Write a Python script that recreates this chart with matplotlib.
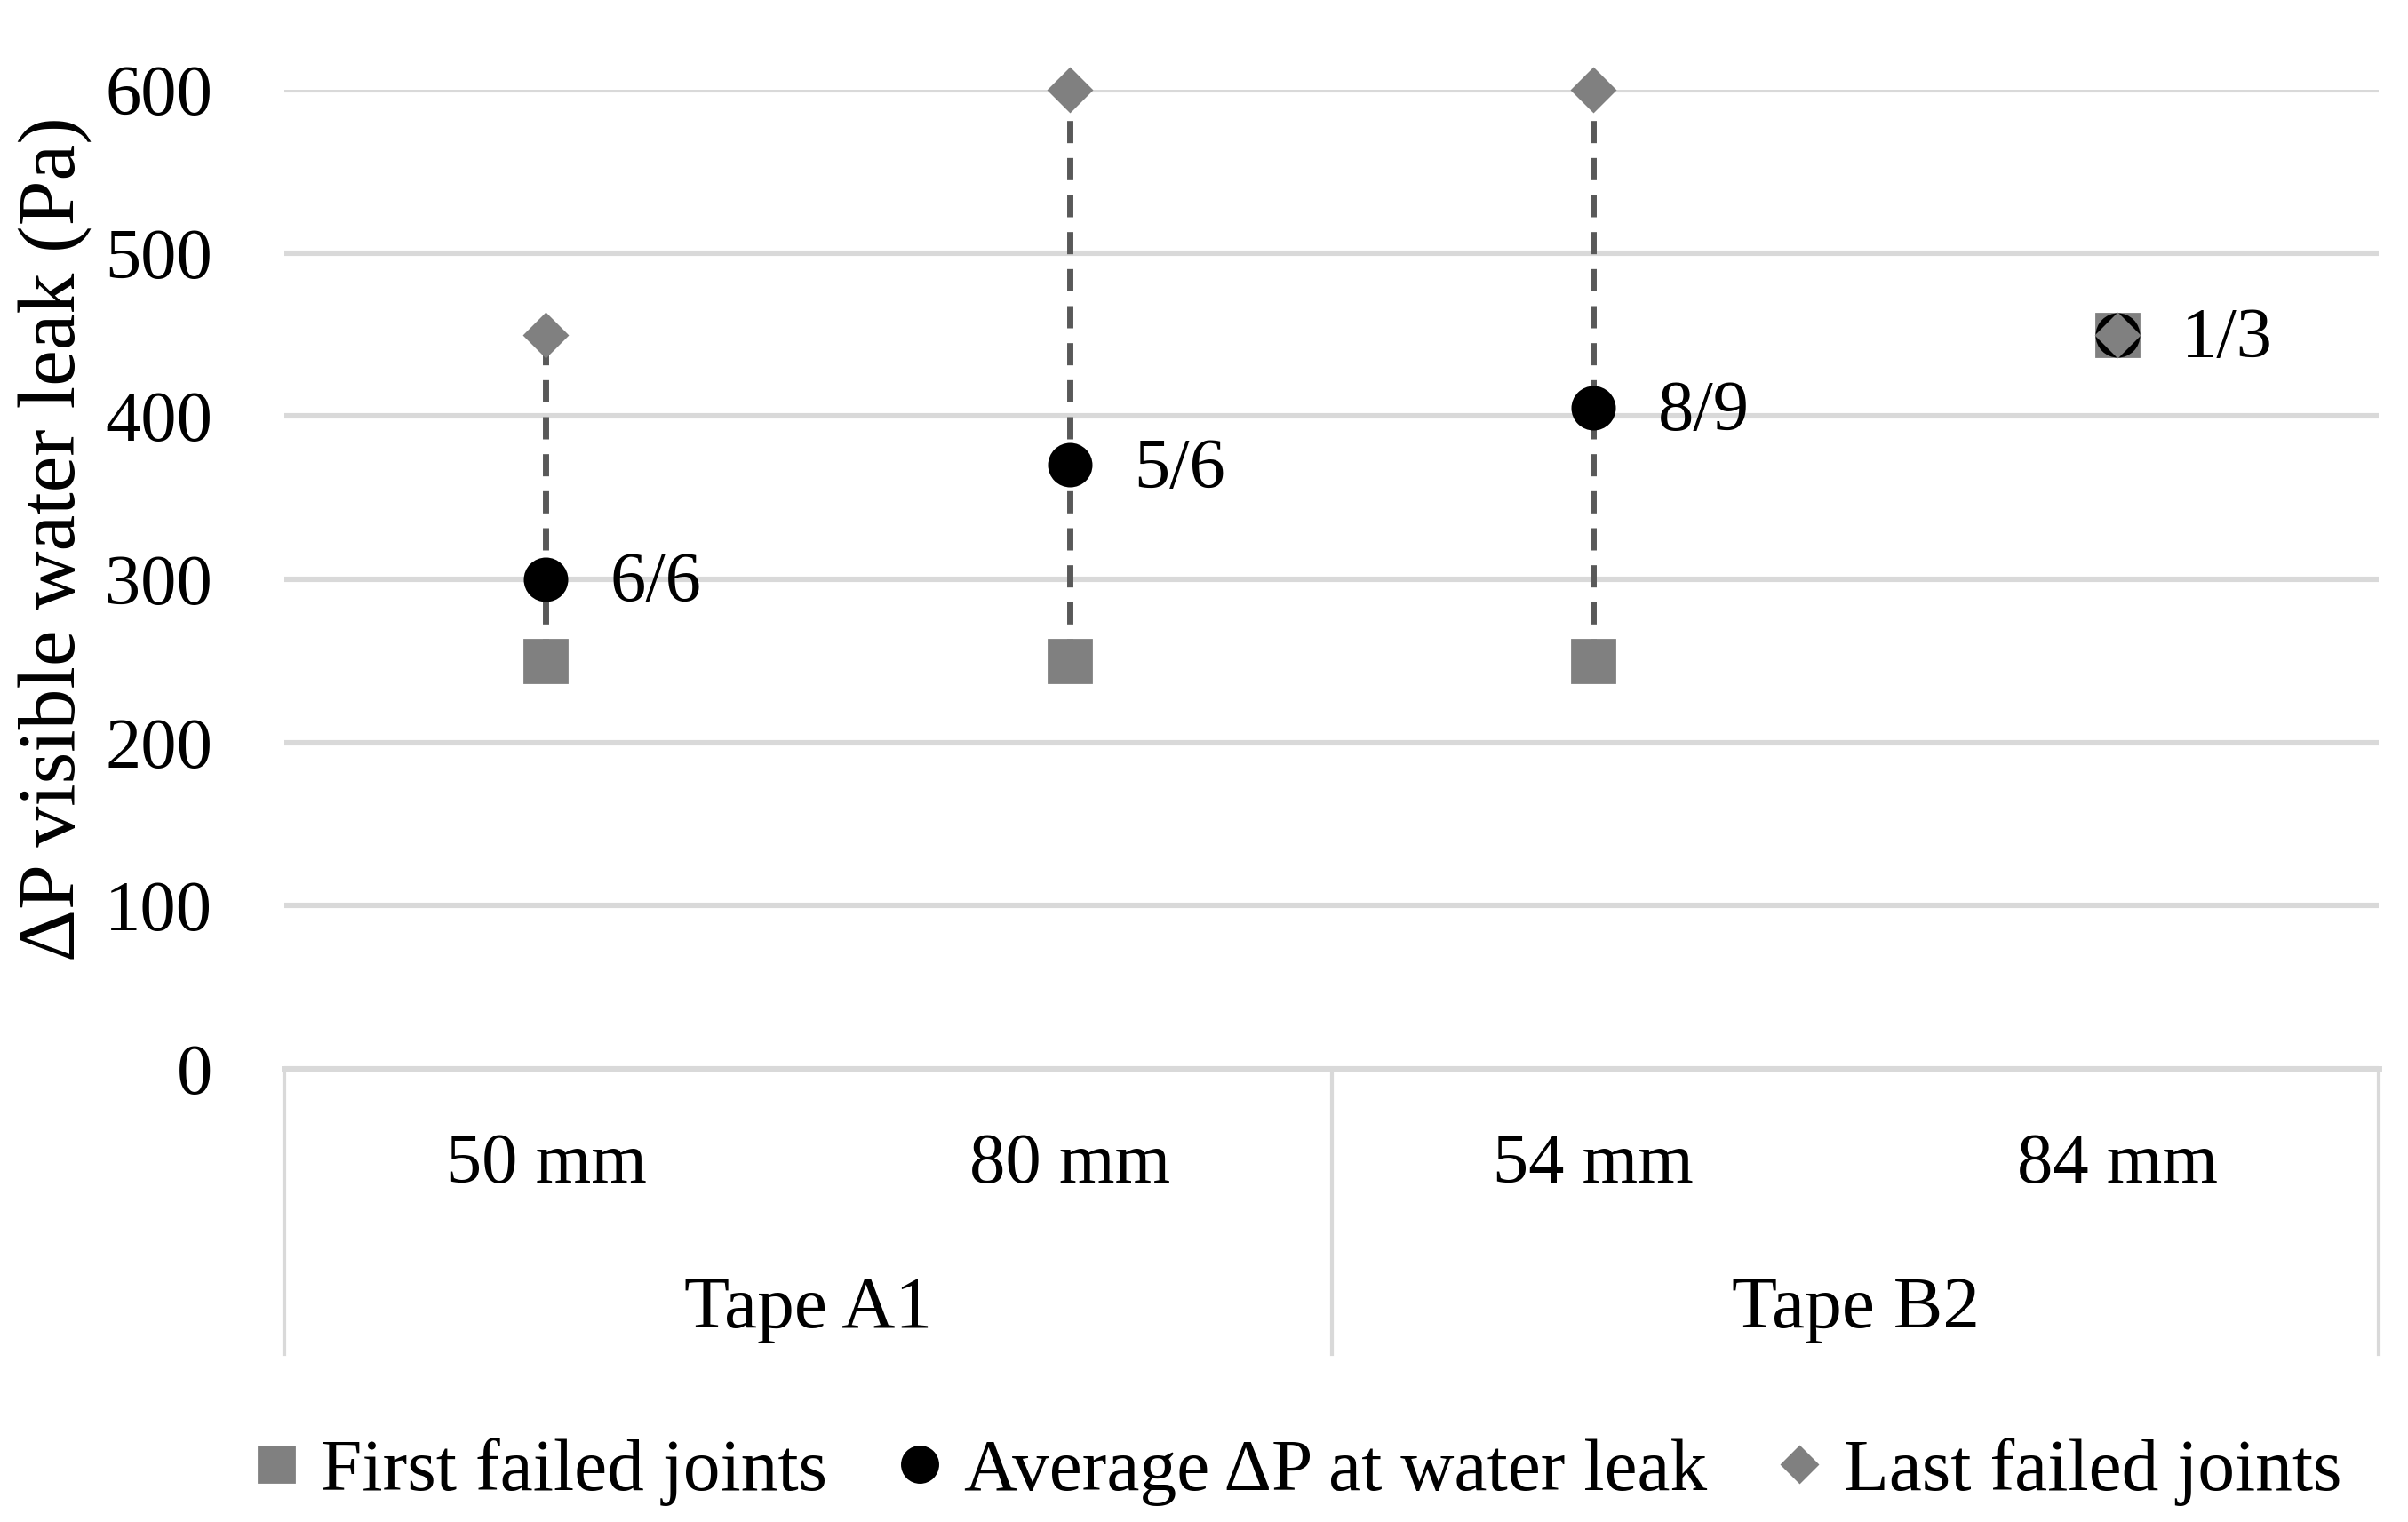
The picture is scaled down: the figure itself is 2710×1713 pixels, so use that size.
import matplotlib
matplotlib.use("Agg")
import matplotlib.pyplot as plt
import matplotlib.transforms as mtransforms

# chart values
sizes = ["50 mm", "80 mm", "54 mm", "84 mm"]
tapes = ["Tape A1", "Tape B2"]
first_failed = [250, 250, 250, 450]
average_dp = [300, 370, 405, 450]
last_failed = [450, 600, 600, 450]
ratio_labels = ["6/6", "5/6", "8/9", "1/3"]
y_ticks = [0, 100, 200, 300, 400, 500, 600]

plt.rcParams['font.family'] = ['Liberation Serif', 'DejaVu Serif']
FS = 29
GRID = '#D9D9D9'
GREY = '#808080'

fig = plt.figure(figsize=(13.55, 8.565), dpi=200)
ax = fig.add_axes([0.118, 0.2977, 0.870, 0.6433])

x = list(range(len(sizes)))

# high-low dashed lines from first to last failed joint
for xi, lo, hi in zip(x, first_failed, last_failed):
    if hi > lo:
        ax.plot([xi, xi], [lo, hi], color='#595959', lw=2.5,
                dashes=(3.6, 2.4), zorder=2)

ax.plot(x, first_failed, ls='none', marker='s', ms=17, color=GREY,
        mec=GREY, label='First failed joints', zorder=3, clip_on=False)
ax.plot(x, average_dp, ls='none', marker='o', ms=17, color='black',
        label='Average ΔP at water leak', zorder=4, clip_on=False)
ax.plot(x, last_failed, ls='none', marker='D', ms=12, color=GREY,
        mec=GREY, label='Last failed joints', zorder=5, clip_on=False)

for xi, yi, lab in zip(x, average_dp, ratio_labels):
    ax.annotate(lab, (xi, yi), xytext=(26, -2), textcoords='offset points',
                ha='left', va='center', fontsize=FS)

ax.set_xlim(-0.5, len(sizes) - 0.5)
ax.set_ylim(0, 600)
ax.set_yticks(y_ticks)
ax.set_xticks([])
ax.tick_params(axis='y', length=0, pad=29, labelsize=FS)
for s in ax.spines.values():
    s.set_visible(False)
ax.yaxis.grid(True, color=GRID, lw=2.2)
ax.set_axisbelow(True)
ax.axhline(0, color=GRID, lw=2.5, zorder=1, clip_on=False)

# two-level category axis
trans = mtransforms.blended_transform_factory(ax.transData, ax.transAxes)
for xi, lab in zip(x, sizes):
    ax.text(xi, -0.098, lab, transform=trans, ha='center', va='center',
            fontsize=FS)
for i, lab in enumerate(tapes):
    ax.text(2 * i + 0.5, -0.246, lab, transform=trans, ha='center',
            va='center', fontsize=30)
for sep in [-0.5, 1.5, 3.5]:
    ax.plot([sep, sep], [0, -0.291], transform=trans, color=GRID, lw=1.5,
            clip_on=False)

fig.text(0.0226, 0.646, 'ΔP visible water leak (Pa)', rotation=90,
         ha='center', va='center', fontsize=33)

fig.legend(loc='center', bbox_to_anchor=(0.539, 0.033), ncol=3,
           frameon=False, fontsize=30, handlelength=0.6, handletextpad=0.3,
           columnspacing=0.95, markerscale=0.85)

fig.savefig('out.png', dpi=200)
